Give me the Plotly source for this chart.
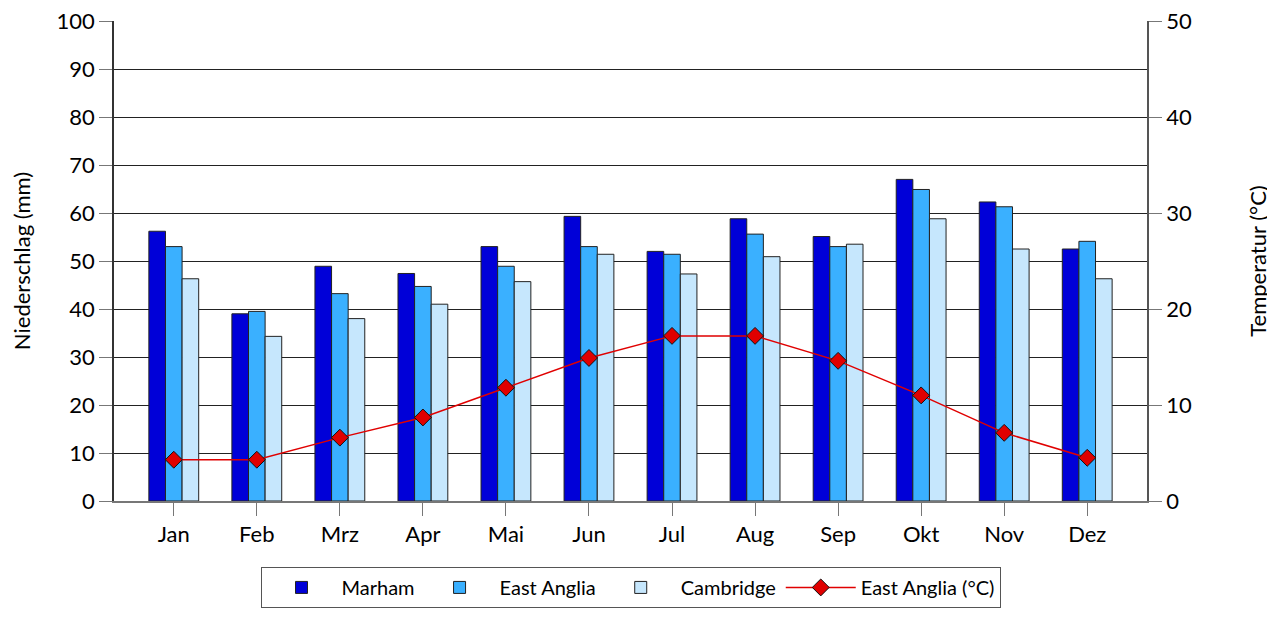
import plotly.graph_objects as go

months = ["Jan", "Feb", "Mrz", "Apr", "Mai", "Jun", "Jul", "Aug", "Sep", "Okt", "Nov", "Dez"]
marham = [56.2, 39.0, 48.9, 47.4, 53.0, 59.3, 52.0, 58.8, 55.1, 67.0, 62.3, 52.5]
east_anglia = [53.0, 39.5, 43.2, 44.7, 48.9, 53.0, 51.4, 55.6, 53.0, 64.9, 61.3, 54.1]
cambridge = [46.3, 34.3, 38.0, 41.0, 45.7, 51.4, 47.3, 50.9, 53.5, 58.8, 52.5, 46.3]
temp_ea = [4.3, 4.3, 6.6, 8.7, 11.8, 14.9, 17.2, 17.2, 14.6, 11.0, 7.1, 4.5]

FONT = "Lato, 'Open Sans', sans-serif"
edge = dict(color="#222222", width=1)

fig = go.Figure()
fig.add_trace(go.Bar(x=months, y=marham, name="Marham", marker=dict(color="#0000d8", line=edge)))
fig.add_trace(go.Bar(x=months, y=east_anglia, name="East Anglia", marker=dict(color="#3ab0ff", line=edge)))
fig.add_trace(go.Bar(x=months, y=cambridge, name="Cambridge", marker=dict(color="#c6e7fd", line=edge)))
fig.add_trace(go.Scatter(
    x=months, y=temp_ea, name="East Anglia (°C)", yaxis="y2", mode="lines+markers",
    line=dict(color="#e00000", width=1.5),
    marker=dict(symbol="diamond", size=13, color="#e00000", line=dict(color="#111111", width=1)),
))

# page body has an 8px margin, so the figure is sized to fit the window
fig.update_layout(
    width=1267, height=611,
    margin=dict(l=106, r=128, t=13, b=117),
    paper_bgcolor="white", plot_bgcolor="white",
    font=dict(family=FONT, size=22, color="black"),
    barmode="group", bargap=0.4, bargroupgap=0,
    showlegend=True,
    legend=dict(
        orientation="h", x=0.5, xanchor="center", y=-0.135, yanchor="top",
        bordercolor="#555555", borderwidth=1, font=dict(size=20),
        itemwidth=70, traceorder="normal",
    ),
    xaxis=dict(
        automargin=False,
        showline=True, linecolor="#777777", linewidth=1.5,
        ticks="outside", ticklen=13, tickcolor="#777777",
        tickfont=dict(size=22),
    ),
    yaxis=dict(
        automargin=False, ticklabeloverflow="allow",
        range=[0, 100], dtick=10, showgrid=True, gridcolor="#222222", gridwidth=1,
        showline=True, linecolor="#333333", linewidth=1.5,
        ticks="outside", ticklen=13, tickcolor="#777777",
        title=dict(text="Niederschlag (mm)", font=dict(size=22), standoff=22),
        zeroline=False,
    ),
    yaxis2=dict(
        automargin=False, ticklabeloverflow="allow",
        range=[0, 50], dtick=10, overlaying="y", side="right", showgrid=False,
        showline=True, linecolor="#555555", linewidth=1.5,
        ticks="outside", ticklen=13, tickcolor="#777777",
        title=dict(text="Temperatur (°C)", font=dict(size=22), standoff=60),
        zeroline=False,
    ),
)

fig.write_html("out.html")
